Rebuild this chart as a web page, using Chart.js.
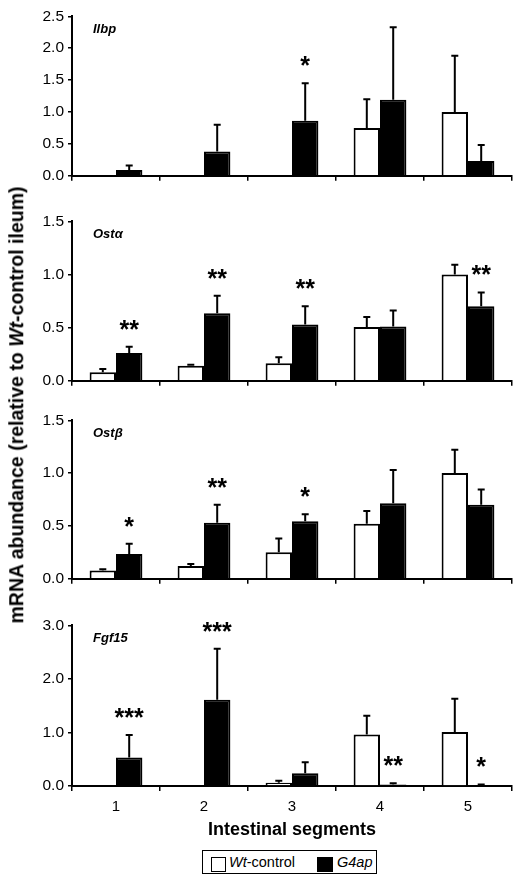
<!DOCTYPE html>
<html><head><meta charset="utf-8">
<script src="https://cdn.jsdelivr.net/npm/chart.js@4/dist/chart.umd.min.js"></script>
<style>
body{margin:0;background:#fff;width:532px;height:883px;position:relative;overflow:hidden;font-family:"Liberation Sans",Arial,sans-serif;color:#000}
canvas{position:absolute;left:0}
#ytitle{position:absolute;left:17px;top:405px;transform:translate(-50%,-50%) rotate(-90deg);white-space:nowrap;font-weight:bold;font-size:19.5px;line-height:19.5px}
.lg{position:absolute;box-sizing:border-box}
.lt{position:absolute;top:850px;height:24px;line-height:24px;font-size:14.5px;white-space:nowrap}
</style></head>
<body>
<canvas id="c1"></canvas><canvas id="c2"></canvas><canvas id="c3"></canvas><canvas id="c4"></canvas>
<div id="ytitle">mRNA abundance (relative to <i>Wt</i>-control ileum)</div>
<div class="lg" style="left:202px;top:850px;width:175px;height:24px;border:1px solid #000"></div>
<div class="lg" style="left:211px;top:857px;width:15px;height:15px;border:1px solid #000;background:#fff"></div>
<div class="lt" style="left:229px"><i>Wt</i>-control</div>
<div class="lg" style="left:317px;top:857px;width:16px;height:15px;background:#000"></div>
<div class="lt" style="left:337px"><i>G4ap</i></div>
<script>
// ---- data ----
const categories = ['1', '2', '3', '4', '5'];
const seriesNames = ['Wt-control', 'G4ap'];

const ilbpWt = [0, 0, 0, 0.75, 1.00];
const ilbpWtErr = [0, 0, 0, 0.45, 0.88];
const ilbpG4 = [0.09, 0.38, 0.86, 1.19, 0.23];
const ilbpG4Err = [0.07, 0.42, 0.59, 1.14, 0.25];
const ilbpStars = ['', '', '*', '', ''];

const ostaWt = [0.08, 0.14, 0.165, 0.505, 1.00];
const ostaWtErr = [0.03, 0.01, 0.055, 0.095, 0.09];
const ostaG4 = [0.26, 0.635, 0.53, 0.51, 0.70];
const ostaG4Err = [0.06, 0.165, 0.17, 0.15, 0.13];
const ostaStars = ['**', '**', '**', '', '**'];

const ostbWt = [0.077, 0.12, 0.25, 0.52, 1.00];
const ostbWtErr = [0.013, 0.02, 0.13, 0.12, 0.22];
const ostbG4 = [0.235, 0.53, 0.545, 0.715, 0.70];
const ostbG4Err = [0.095, 0.17, 0.065, 0.315, 0.145];
const ostbStars = ['*', '**', '*', '', ''];

const fgfWt = [0, 0, 0.06, 0.96, 1.01];
const fgfWtErr = [0, 0, 0.04, 0.35, 0.62];
const fgfG4 = [0.53, 1.61, 0.24, 0.03, 0.02];
const fgfG4Err = [0.42, 0.95, 0.205, 0.02, 0.01];
const fgfStars = ['***', '***', '', '**', '*'];

const ilbpTicks = [0, 0.5, 1.0, 1.5, 2.0, 2.5];
const ostTicks = [0, 0.5, 1.0, 1.5];
const fgfTicks = [0, 1.0, 2.0, 3.0];

// ---- drawing ----
const FONT = '"Liberation Sans", Arial, sans-serif';

function annotPlugin(stars, label) {
  return {
    id: 'annot',
    afterDatasetsDraw(chart) {
      const ctx = chart.ctx, ys = chart.scales.y;
      ctx.save();
      ctx.strokeStyle = '#000'; ctx.lineWidth = 2; ctx.lineCap = 'butt';
      chart.data.datasets.forEach((ds, di) => {
        const meta = chart.getDatasetMeta(di);
        meta.data.forEach((bar, i) => {
          const e = ds.errors[i];
          if (!e) return;
          const top = ys.getPixelForValue(ds.data[i] + e);
          ctx.beginPath();
          ctx.moveTo(bar.x, bar.y); ctx.lineTo(bar.x, top);
          ctx.moveTo(bar.x - 3.5, top); ctx.lineTo(bar.x + 3.5, top);
          ctx.stroke();
        });
      });
      const ds = chart.data.datasets[1], meta = chart.getDatasetMeta(1);
      ctx.fillStyle = '#000';
      ctx.font = 'bold 25px ' + FONT;
      ctx.textAlign = 'center'; ctx.textBaseline = 'alphabetic';
      stars.forEach((s, i) => {
        if (!s) return;
        const top = ys.getPixelForValue(ds.data[i] + ds.errors[i]);
        ctx.fillText(s, meta.data[i].x, top - 9);
      });
      ctx.font = 'italic bold 13px ' + FONT;
      ctx.textAlign = 'left'; ctx.textBaseline = 'middle';
      ctx.fillText(label, chart.chartArea.left + 21, chart.chartArea.top + 13);
      ctx.restore();
    }
  };
}

function makePanel(id, plotTop, plotBottom, wt, wtErr, g4, g4Err, stars, ticks, label, last) {
  const padTop = 12;
  const xH = last ? 58 : 12;
  const cv = document.getElementById(id);
  const h = padTop + (plotBottom - plotTop) + xH;
  cv.width = 532; cv.height = h;
  cv.style.top = (plotTop - padTop) + 'px';
  cv.style.width = '532px'; cv.style.height = h + 'px';
  const ymax = ticks[ticks.length - 1];
  new Chart(cv, {
    type: 'bar',
    data: {
      labels: categories,
      datasets: [
        { label: seriesNames[0], data: wt, errors: wtErr, backgroundColor: '#fff', borderColor: '#000', borderWidth: 2 },
        { label: seriesNames[1], data: g4, errors: g4Err, backgroundColor: '#000', borderColor: '#000', borderWidth: 2 }
      ]
    },
    options: {
      responsive: false, animation: false, devicePixelRatio: 1,
      layout: { padding: { top: padTop, right: 20, left: 0, bottom: 0 } },
      datasets: { bar: { categoryPercentage: 0.6, barPercentage: 1.0 } },
      plugins: { legend: { display: false }, tooltip: { enabled: false } },
      scales: {
        x: {
          offset: true,
          grid: { offset: true, drawOnChartArea: false, drawTicks: true, tickLength: 5, color: '#000', lineWidth: 1.5 },
          border: { display: true, color: '#000', width: 2 },
          ticks: { display: !!last, color: '#000', padding: 7, font: { family: FONT, size: 15 } },
          title: { display: !!last, text: 'Intestinal segments', color: '#000', padding: { top: 0, bottom: 3 }, font: { family: FONT, size: 18, weight: 'bold' } },
          afterFit(s) { s.height = xH; }
        },
        y: {
          min: 0, max: ymax,
          afterBuildTicks(s) { s.ticks = ticks.map(v => ({ value: v })); },
          grid: { drawOnChartArea: false, drawTicks: true, tickLength: 4, color: '#000', lineWidth: 1.5 },
          border: { display: true, color: '#000', width: 2 },
          ticks: { color: '#000', padding: 4, font: { family: FONT, size: 15.5 }, callback: v => Number(v).toFixed(1) },
          afterFit(s) { s.width = 72; }
        }
      }
    },
    plugins: [annotPlugin(stars, label)]
  });
}

makePanel('c1', 15, 177, ilbpWt, ilbpWtErr, ilbpG4, ilbpG4Err, ilbpStars, ilbpTicks, 'Ilbp', false);
makePanel('c2', 220, 382, ostaWt, ostaWtErr, ostaG4, ostaG4Err, ostaStars, ostTicks, 'Ostα', false);
makePanel('c3', 419, 580, ostbWt, ostbWtErr, ostbG4, ostbG4Err, ostbStars, ostTicks, 'Ostβ', false);
makePanel('c4', 624, 786, fgfWt, fgfWtErr, fgfG4, fgfG4Err, fgfStars, fgfTicks, 'Fgf15', true);
</script>
</body></html>
